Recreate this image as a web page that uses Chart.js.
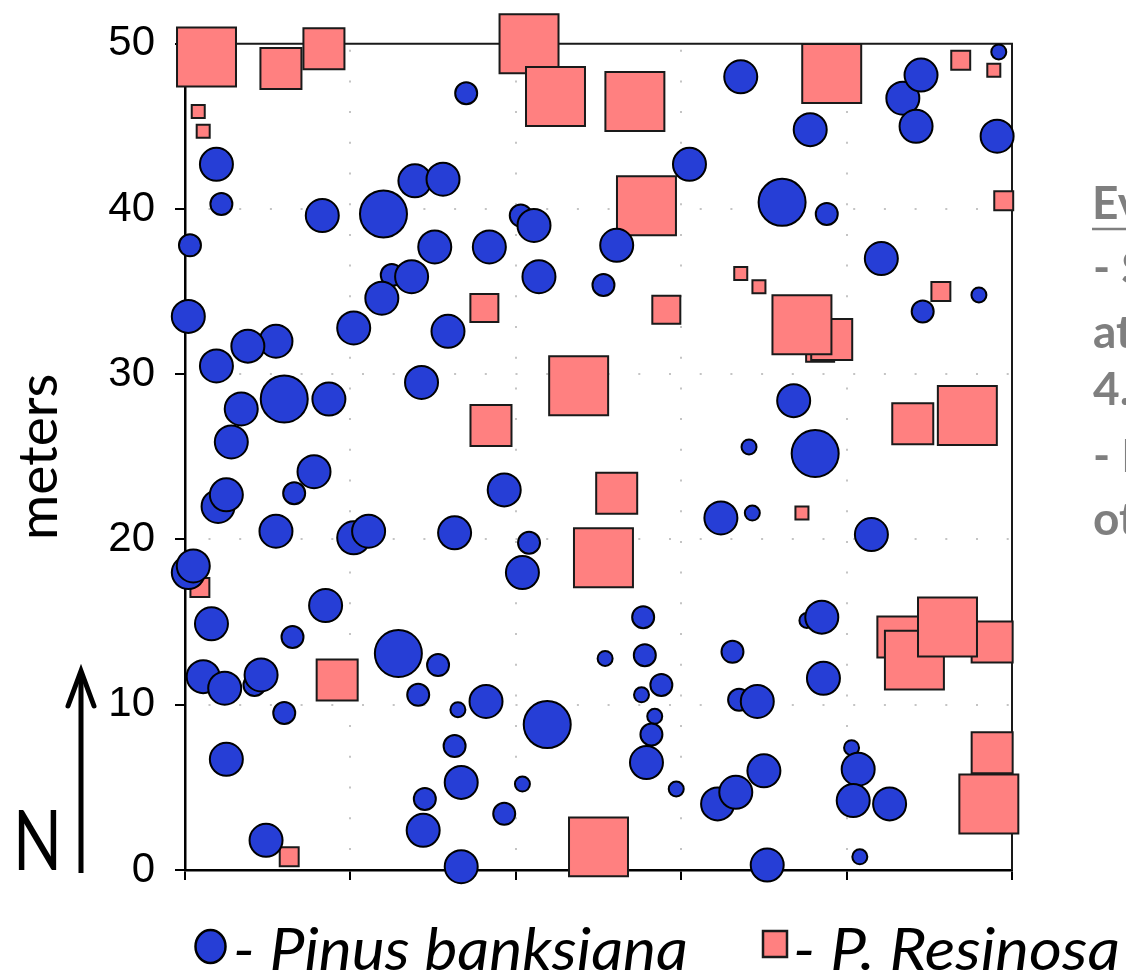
<!DOCTYPE html>
<html>
<head>
<meta charset="utf-8">
<title>Stem map</title>
<script src="https://cdn.jsdelivr.net/npm/chart.js@4.4.1/dist/chart.umd.min.js"></script>
<style>
  html, body { margin: 0; padding: 0; background: #fff; overflow: hidden; }
  #wrap { position: relative; width: 1126px; height: 973px; }
  #plot { position: absolute; left: 0; top: 0; }
  #notes { position: absolute; left: 0; top: 0; pointer-events: none; }
</style>
</head>
<body>
<div id="wrap">
  <canvas id="plot" width="1126" height="973"></canvas>
  <svg id="notes" width="1126" height="973" viewBox="0 0 1126 973">
    <!-- north arrow -->
    <line x1="81" y1="674" x2="81" y2="873" stroke="#000" stroke-width="5"/>
    <polyline points="68,706 81,671 94,706" fill="none" stroke="#000" stroke-width="5" stroke-linecap="round"/>
    <text x="13" y="870" font-family="Lato" font-size="83" textLength="49" lengthAdjust="spacingAndGlyphs">N</text>

    <!-- side note, runs off the right edge -->
    <g font-family="Lato" font-weight="700" font-size="46" fill="#7f7f7f">
      <text x="1092" y="219">Ev</text>
      <line x1="1092" y1="229" x2="1126" y2="229" stroke="#7f7f7f" stroke-width="2.5"/>
      <text x="1093" y="284">- S</text>
      <text x="1093" y="348">at</text>
      <text x="1093" y="405">4.</text>
      <text x="1093" y="472">- I</text>
      <text x="1093" y="535">ot</text>
    </g>

    <!-- legend -->
    <ellipse cx="210.5" cy="946.5" rx="15" ry="16.5" fill="#263ed6" stroke="#000" stroke-width="2.5"/>
    <text x="233" y="970" font-family="Lato" font-style="italic" font-size="58" textLength="455" lengthAdjust="spacingAndGlyphs">- Pinus banksiana</text>
    <rect x="763" y="931" width="24" height="26" fill="#ff8080" stroke="#1a1a1a" stroke-width="2.5"/>
    <text x="793" y="970" font-family="Lato" font-style="italic" font-size="58" textLength="327" lengthAdjust="spacingAndGlyphs">- P. Resinosa</text>
  </svg>
</div>

<script>
// Pinus banksiana stems (m), size class 1..4
var pbX = [0.3, 1.9, 2.2, 0.2, 1.9, 5.5, 3.8, 3.4, 6.0, 8.7, 2.8, 8.3, 12.0, 13.9, 15.6, 15.1, 12.5, 13.7, 11.9, 10.2,
           15.9, 14.3, 17.0, 30.5, 20.3, 21.1, 18.4, 21.4, 25.3, 26.1, 33.6, 49.2, 43.4, 44.5, 44.2, 49.1, 37.8, 36.1, 38.8, 42.1,
           44.6, 48.0, 36.8, 38.1, 34.1, 7.8, 6.6, 2.0, 2.5, 5.5, 10.2, 11.1, 16.3, 0.2, 0.5, 8.5, 1.6, 6.5, 12.9, 15.3,
           1.1, 2.4, 4.2, 4.6, 14.1, 16.5, 6.0, 2.5, 16.3, 16.7, 14.5, 14.4, 4.9, 16.7, 19.3, 32.4, 20.8, 20.4, 27.7, 25.4,
           27.8, 33.1, 28.8, 27.6, 18.2, 33.5, 34.6, 21.9, 28.4, 28.2, 27.9, 20.4, 29.7, 19.3, 32.2, 33.3, 34.3, 41.5, 37.6, 38.5,
           38.6, 35.0, 40.3, 40.7, 40.4, 42.6, 40.8, 35.2]
var pbY = [37.8, 42.7, 40.3, 33.5, 30.5, 32.0, 31.7, 27.9, 28.5, 28.5, 25.9, 39.6, 39.7, 41.7, 41.8, 37.7, 36.0, 35.9, 34.6, 32.8,
           32.6, 29.5, 47.0, 42.7, 39.6, 39.0, 37.7, 35.9, 35.4, 37.8, 48.0, 49.5, 46.7, 48.1, 45.0, 44.4, 44.8, 40.4, 39.7, 37.0,
           33.8, 34.8, 28.4, 25.2, 25.6, 24.1, 22.8, 22.0, 22.7, 20.5, 20.1, 20.5, 20.4, 18.0, 18.4, 16.0, 14.9, 14.1, 13.1, 12.4,
           11.7, 11.0, 11.2, 11.8, 10.6, 9.7, 9.5, 6.7, 7.5, 5.3, 4.3, 2.4, 1.8, 0.2, 23.0, 21.3, 19.8, 18.0, 15.3, 12.8,
           13.0, 13.2, 11.2, 10.6, 10.2, 10.3, 10.2, 8.8, 9.3, 8.2, 6.5, 5.2, 4.9, 3.4, 4.0, 4.7, 21.6, 20.3, 15.1, 15.3,
           11.6, 6.0, 7.4, 6.1, 4.2, 4.0, 0.8, 0.3]
var pbSize = [2, 3, 2, 3, 3, 3, 3, 3, 4, 3, 3, 3, 4, 3, 3, 3, 2, 3, 3, 3,
              3, 3, 2, 3, 2, 3, 3, 3, 2, 3, 3, 1, 3, 3, 3, 3, 3, 4, 2, 3,
              2, 1, 3, 4, 1, 3, 2, 3, 3, 3, 3, 3, 3, 3, 3, 3, 3, 2, 4, 2,
              3, 3, 2, 3, 2, 1, 2, 3, 2, 3, 2, 3, 3, 3, 3, 3, 2, 3, 2, 1,
              2, 2, 2, 1, 3, 2, 3, 4, 1, 2, 3, 1, 1, 2, 3, 3, 1, 3, 1, 3,
              3, 3, 1, 3, 3, 3, 1, 3]

// P. resinosa stems (m), size class 1..5
var prX = [1.3, 5.8, 8.4, 0.8, 1.1, 20.8, 22.4, 27.2, 27.9, 18.1, 29.1, 23.8, 18.5, 39.1, 46.9, 48.9, 49.5, 33.6, 34.7, 38.4,
           39.1, 37.3, 45.7, 44.0, 47.3, 0.9, 9.2, 6.3, 26.1, 25.3, 25.0, 37.3, 43.1, 44.1, 48.8, 46.1, 48.8, 48.6]
var prY = [49.2, 48.5, 49.7, 45.9, 44.7, 50.0, 46.8, 46.5, 40.2, 34.0, 33.9, 29.3, 26.9, 48.2, 49.0, 48.4, 40.5, 36.1, 35.3, 31.6,
           32.1, 33.0, 35.0, 27.0, 27.5, 17.1, 11.5, 0.8, 22.8, 18.9, 1.4, 21.6, 14.1, 12.7, 13.8, 14.7, 7.1, 4.0]
var prSize = [5, 4, 4, 1, 1, 5, 5, 5, 5, 3, 3, 5, 4, 5, 2, 1, 2, 1, 1, 3,
              4, 5, 2, 4, 5, 2, 4, 2, 4, 5, 5, 1, 4, 5, 4, 5, 4, 5]

var axisTicks = [0, 10, 20, 30, 40, 50]

// pixel radius for each size class
var circleR = [0, 7.5, 11, 16.5, 23.5]
var squareR = [0, 9.2, 13.4, 19.8, 29, 41.7]

function toPoints(xs, ys, ss) {
    return xs.map(function (x, i) { return {x: x, y: ys[i], s: ss[i]} })
}

// top and right edge of the plot box
var frame = {
    id: 'frame',
    beforeDatasetsDraw: function (chart) {
        var a = chart.chartArea, c = chart.ctx
        c.save()
        c.strokeStyle = '#1a1a1a'
        c.lineWidth = 2
        c.beginPath()
        c.moveTo(a.left, a.top)
        c.lineTo(a.right, a.top)
        c.lineTo(a.right, a.bottom)
        c.stroke()
        c.restore()
    }
}

function gridColor(ctx) {
    if (ctx.tick && (ctx.tick.value === 0 || ctx.tick.value === 50)) return 'rgba(0,0,0,0)'
    return '#c4c4c4'
}

var config = {
    type: 'scatter',
    data: {
        datasets: [{
            label: 'Pinus banksiana',
            data: toPoints(pbX, pbY, pbSize),
            pointStyle: 'circle',
            backgroundColor: '#263ed6',
            borderColor: '#000',
            borderWidth: 2,
            pointRadius: function (ctx) { return circleR[ctx.raw.s] },
            clip: false
        }, {
            label: 'P. Resinosa',
            data: toPoints(prX, prY, prSize),
            pointStyle: 'rect',
            backgroundColor: '#ff8080',
            borderColor: '#1a1a1a',
            borderWidth: 2,
            pointRadius: function (ctx) { return squareR[ctx.raw.s] },
            clip: false
        }]
    },
    options: {
        responsive: false,
        animation: false,
        events: [],
        layout: { padding: { top: 42, right: 114, left: 0, bottom: 0 } },
        plugins: {
            legend: { display: false },
            tooltip: { enabled: false }
        },
        scales: {
            x: {
                type: 'linear',
                min: 0,
                max: 50,
                afterBuildTicks: function (s) { s.ticks = axisTicks.map(function (v) { return {value: v} }) },
                afterFit: function (s) { s.height = 103 },
                ticks: { display: false },
                grid: {
                    color: gridColor,
                    lineWidth: 2,
                    tickColor: '#000',
                    tickWidth: 2,
                    tickLength: 10,
                    tickBorderDash: []
                },
                border: { color: '#000', width: 2.5, dash: [2, 28.7], dashOffset: 24.7 }
            },
            y: {
                type: 'linear',
                min: 0,
                max: 50,
                afterBuildTicks: function (s) { s.ticks = axisTicks.map(function (v) { return {value: v} }) },
                afterFit: function (s) {
                    s.width = 185
                    // labels may hang over the plot edges, the layout padding handles it
                    s.paddingTop = 0
                    s.paddingBottom = 0
                },
                ticks: {
                    color: '#000',
                    padding: 20,
                    font: { family: '"Liberation Sans", Arial, sans-serif', size: 42 }
                },
                grid: {
                    color: gridColor,
                    lineWidth: 2,
                    tickColor: '#000',
                    tickWidth: 2,
                    tickLength: 10,
                    tickBorderDash: []
                },
                border: { color: '#000', width: 2.5, dash: [2, 28.7], dashOffset: 8.7 },
                title: {
                    display: true,
                    text: 'meters',
                    color: '#000',
                    padding: { top: 6, bottom: 0 },
                    font: { family: 'Lato, sans-serif', size: 55 }
                }
            }
        }
    },
    plugins: [frame]
}

var stemMap = new Chart(document.getElementById('plot'), config)
</script>
</body>
</html>
